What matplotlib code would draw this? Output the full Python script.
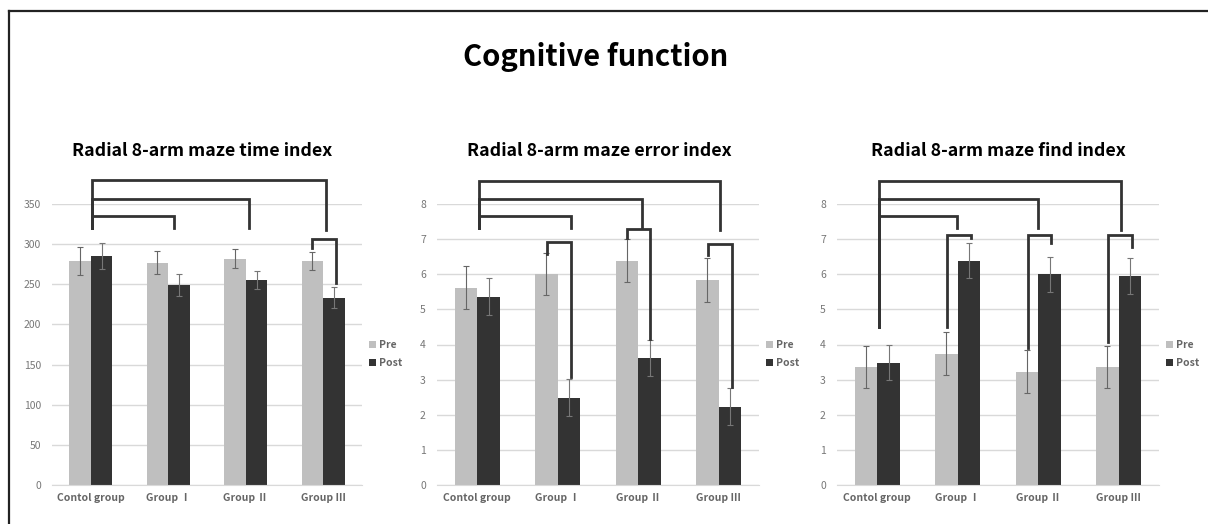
import numpy as np
import matplotlib
matplotlib.use('Agg')
import matplotlib.pyplot as plt
from matplotlib.lines import Line2D

plt.rcParams['font.family'] = ['Noto Sans CJK KR', 'DejaVu Sans']

groups = ['Contol group', 'Group Ⅰ', 'Group Ⅱ', 'Group Ⅲ']

# time index
time_pre = [279, 277, 282, 279]
time_pre_err = [17, 14, 12, 11]
time_post = [285, 249, 255, 233]
time_post_err = [16, 14, 11, 13]

# error index
error_pre = [5.62, 6.0, 6.38, 5.83]
error_pre_err = [0.61, 0.6, 0.61, 0.62]
error_post = [5.36, 2.49, 3.61, 2.23]
error_post_err = [0.52, 0.52, 0.52, 0.52]

# find index
find_pre = [3.37, 3.74, 3.23, 3.37]
find_pre_err = [0.6, 0.61, 0.61, 0.6]
find_post = [3.48, 6.38, 6.0, 5.95]
find_post_err = [0.5, 0.5, 0.5, 0.5]

# brackets: (x left, x right, top y, left leg bottom, right leg bottom)
time_brackets = [(0.01, 3.04, 380, 320, 318), (0.01, 2.04, 356, 320, 320),
                 (0.01, 1.07, 335, 320, 320), (2.86, 3.16, 306, 295, 251)]
error_brackets = [(0.02, 3.02, 8.66, 7.32, 7.26), (0.02, 2.05, 8.14, 7.32, 7.32),
                  (0.02, 1.16, 7.66, 7.32, 7.32), (0.87, 1.16, 6.93, 6.59, 3.08),
                  (1.86, 2.15, 7.28, 7.02, 4.17), (2.87, 3.16, 6.86, 6.55, 2.80)]
find_brackets = [(0.02, 3.03, 8.66, 4.49, 7.26), (0.02, 2.0, 8.14, 4.49, 7.32),
                 (0.02, 0.99, 7.66, 4.49, 7.32), (0.87, 1.16, 7.12, 4.49, 7.02),
                 (1.87, 2.16, 7.12, 3.89, 6.88), (2.87, 3.16, 7.12, 4.08, 6.78)]

panels = [
    ('Radial 8-arm maze time index', time_pre, time_pre_err, time_post, time_post_err,
     time_brackets, 350, 50),
    ('Radial 8-arm maze error index', error_pre, error_pre_err, error_post, error_post_err,
     error_brackets, 8, 1),
    ('Radial 8-arm maze find index', find_pre, find_pre_err, find_post, find_post_err,
     find_brackets, 8, 1),
]

W, H = 1208, 524
fig = plt.figure(figsize=(W / 100, H / 100), dpi=100)

# frame lines (left and top only)
fig.add_artist(Line2D([9 / W, 9 / W], [0, 1 - 11 / H], color='#222222', lw=1.6))
fig.add_artist(Line2D([9 / W, 1], [1 - 11 / H, 1 - 11 / H], color='#222222', lw=1.6))

fig.text(596 / W, 1 - 57 / H, 'Cognitive function', ha='center', va='center',
         fontsize=21, fontweight='bold', color='black')

lefts = [52, 437, 837]
widths = [310, 322, 322]
title_x = [202, 599, 998]
x = np.arange(len(groups))
bw = 0.28

for i, (title, pre, pre_e, post, post_e, brackets, ymax, step) in enumerate(panels):
    ax = fig.add_axes([lefts[i] / W, 39 / H, widths[i] / W, 281 / H])
    ax.bar(x - bw / 2, pre, bw, color='#bfbfbf', label='Pre', zorder=2)
    ax.bar(x + bw / 2, post, bw, color='#333333', label='Post', zorder=2)
    ax.errorbar(x - bw / 2, pre, yerr=pre_e, fmt='none', ecolor='#666666',
                elinewidth=0.8, capsize=2, capthick=0.8, zorder=3)
    ax.errorbar(x + bw / 2, post, yerr=post_e, fmt='none', ecolor='#777777',
                elinewidth=0.8, capsize=2, capthick=0.8, zorder=3)
    for x1, x2, top, b1, b2 in brackets:
        ax.plot([x1, x1, x2, x2], [b1, top, top, b2], color='#333333', lw=2,
                clip_on=False, zorder=4, solid_joinstyle='miter')
    ax.set_xlim(-0.5, 3.5)
    ax.set_ylim(0, ymax)
    ax.set_yticks(np.arange(0, ymax + step / 2, step))
    ax.set_xticks(x)
    ax.set_xticklabels(groups, fontweight='bold', fontsize=7.5, color='#666666')
    ax.tick_params(axis='y', length=0, labelsize=7.5, labelcolor='#777777', pad=8)
    ax.tick_params(axis='x', length=0, pad=6)
    ax.grid(axis='y', color='#d9d9d9', lw=1, zorder=0)
    for s in ['top', 'right', 'left']:
        ax.spines[s].set_visible(False)
    ax.spines['bottom'].set_color('#d9d9d9')
    ax.legend(loc='center left', bbox_to_anchor=(1.0, 0.466), frameon=False,
              handlelength=0.6, handleheight=0.6, handletextpad=0.3,
              borderaxespad=0.3, labelspacing=0.8, labelcolor='#666666',
              prop={'weight': 'bold', 'size': 7.5})
    fig.text(title_x[i] / W, 1 - 151 / H, title, ha='center', va='center',
             fontsize=12.8, fontweight='bold', color='black')

fig.savefig('out.png', dpi=100)
